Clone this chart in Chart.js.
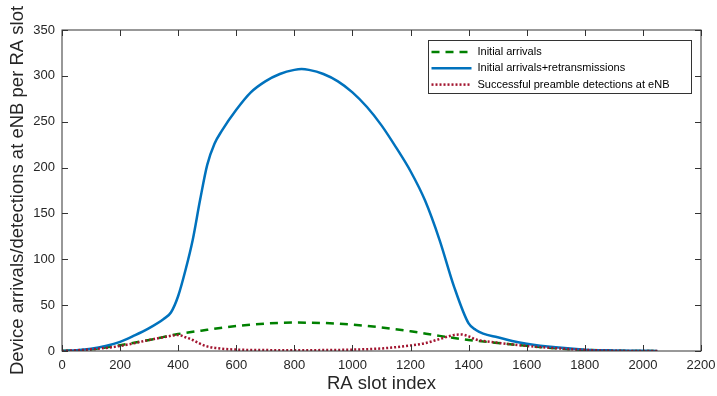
<!DOCTYPE html>
<html>
<head>
<meta charset="utf-8">
<script src="https://cdn.jsdelivr.net/npm/chart.js@4"></script>
<style>
  html, body { margin: 0; padding: 0; background: #fff; }
</style>
</head>
<body>
<canvas id="raChart" width="717" height="396"></canvas>
<script>
// Values
const arrivalsSlots = [0, 100, 200, 300, 400, 500, 600, 700, 800, 900, 1000, 1100, 1200, 1300, 1400, 1500, 1600, 1700, 1800, 1900, 2000, 2050];
const arrivalsValues = [0, 1.8, 6.3, 12, 18.5, 23.1, 27.2, 29.9, 31, 30.5, 28.7, 25.7, 21.5, 16.5, 12, 8.8, 5.6, 3, 1.2, 0.3, 0, 0];

const retxSlots = [0, 50, 100, 150, 200, 250, 300, 350, 375, 400, 425, 450, 475, 500, 525, 550, 600, 650, 700, 750, 800, 825, 850, 900, 950, 1000, 1050, 1100, 1150, 1200, 1250, 1300, 1350, 1400, 1425, 1450, 1500, 1550, 1600, 1700, 1800, 1900, 2000, 2050];
const retxValues = [0, 0.8, 2.5, 5.5, 10, 17, 25, 35, 42, 60, 88, 121, 164, 203, 226, 240, 263, 282, 294, 302, 306.5, 307.4, 306.5, 302, 294, 282, 266, 246, 222, 196, 164, 121, 70, 30, 23, 19, 15, 11, 8, 4, 1.5, 0.6, 0.2, 0];

const detectSlots = [0, 100, 200, 300, 350, 400, 425, 450, 475, 500, 550, 600, 700, 800, 900, 1000, 1100, 1200, 1250, 1300, 1350, 1375, 1400, 1425, 1450, 1500, 1600, 1700, 1800, 1900, 2000, 2050];
const detectValues = [0, 1.8, 5.5, 12, 15, 17.5, 15, 12, 8, 5, 2.5, 1.5, 1, 0.8, 1, 1.5, 2.8, 6, 8.5, 13, 17.5, 18, 16, 12.5, 11, 9, 5.5, 3, 1.2, 0.3, 0, 0];

const xTickMax = 2200;
const yTickMax = 350;

const axisColor = '#333333';
const fontFamily = '"Liberation Sans", Arial, Helvetica, sans-serif';

function toPoints(xs, ys) {
    return xs.map((x, i) => ({ x: x, y: ys[i] }));
}

// Box around the axes with inward ticks on all four sides (MATLAB look)
const boxPlugin = {
    id: 'boxTicks',
    afterDatasetsDraw(chart) {
        const ctx = chart.ctx;
        const area = chart.chartArea;
        const xs = chart.scales.x;
        const ys = chart.scales.y;
        ctx.save();
        ctx.strokeStyle = axisColor;
        ctx.lineWidth = 1;
        ctx.strokeRect(area.left, area.top, area.right - area.left, area.bottom - area.top);
        ctx.beginPath();
        xs.ticks.forEach(t => {
            const px = Math.round(xs.getPixelForValue(t.value)) + 0.5;
            ctx.moveTo(px, area.bottom);
            ctx.lineTo(px, area.bottom - 6);
            ctx.moveTo(px, area.top);
            ctx.lineTo(px, area.top + 6);
        });
        ys.ticks.forEach(t => {
            const py = Math.round(ys.getPixelForValue(t.value)) + 0.5;
            ctx.moveTo(area.left, py);
            ctx.lineTo(area.left + 6, py);
            ctx.moveTo(area.right, py);
            ctx.lineTo(area.right - 6, py);
        });
        ctx.stroke();
        ctx.restore();
    }
};

// Boxed legend in the upper right corner of the plot
const legendPlugin = {
    id: 'boxLegend',
    afterDraw(chart) {
        const ctx = chart.ctx;
        const area = chart.chartArea;
        const w = 263, h = 53;
        const left = area.right - 10.5 - w;
        const top = area.top + 10;
        ctx.save();
        ctx.fillStyle = '#ffffff';
        ctx.fillRect(left, top, w, h);
        ctx.strokeStyle = axisColor;
        ctx.lineWidth = 1;
        ctx.strokeRect(Math.round(left) + 0.5, Math.round(top) + 0.5, w, h);
        ctx.font = '11px ' + fontFamily;
        ctx.textBaseline = 'middle';
        ctx.fillStyle = '#000000';
        chart.data.datasets.forEach((ds, i) => {
            const y = top + 12 + i * 16.3;
            ctx.save();
            ctx.strokeStyle = ds.borderColor;
            ctx.lineWidth = ds.borderWidth;
            ctx.setLineDash(ds.borderDash || []);
            ctx.beginPath();
            ctx.moveTo(left + 4, y);
            ctx.lineTo(left + 44, y);
            ctx.stroke();
            ctx.restore();
            ctx.fillText(ds.label, left + 50, y);
        });
        ctx.restore();
    }
};

const ctx = document.getElementById('raChart');

new Chart(ctx, {
    type: 'line',
    data: {
        datasets: [
            {
                label: 'Initial arrivals',
                data: toPoints(arrivalsSlots, arrivalsValues),
                borderColor: '#008000',
                borderWidth: 2.5,
                borderDash: [8, 6],
                order: 2
            },
            {
                label: 'Initial arrivals+retransmissions',
                data: toPoints(retxSlots, retxValues),
                borderColor: '#0072BD',
                borderWidth: 2.5,
                order: 1
            },
            {
                label: 'Successful preamble detections at eNB',
                data: toPoints(detectSlots, detectValues),
                borderColor: '#A2142F',
                borderWidth: 2.5,
                borderDash: [2, 2],
                order: 0
            }
        ]
    },
    options: {
        responsive: false,
        animation: false,
        layout: {
            padding: { left: 0, top: 30, right: 16, bottom: 0 }
        },
        elements: {
            point: { radius: 0 },
            line: { cubicInterpolationMode: 'monotone', fill: false }
        },
        plugins: {
            legend: { display: false },
            tooltip: { enabled: false }
        },
        scales: {
            x: {
                type: 'linear',
                min: 0,
                max: xTickMax,
                border: { display: false },
                grid: { display: false, drawTicks: false },
                ticks: {
                    stepSize: 200,
                    padding: 7,
                    color: '#262626',
                    font: { family: fontFamily, size: 13 },
                    maxRotation: 0,
                    callback: v => String(v)
                },
                title: {
                    display: true,
                    text: 'RA slot index',
                    color: '#262626',
                    font: { family: fontFamily, size: 18.5, lineHeight: 1 },
                    padding: { top: 0, bottom: 3 }
                },
                afterFit(scale) {
                    scale.height = 45;
                    scale.paddingLeft = 0;
                    scale.paddingRight = 0;
                }
            },
            y: {
                min: 0,
                max: yTickMax,
                border: { display: false },
                grid: { display: false, drawTicks: false },
                ticks: {
                    stepSize: 50,
                    padding: 7,
                    color: '#262626',
                    font: { family: fontFamily, size: 13 }
                },
                title: {
                    display: true,
                    text: 'Device arrivals/detections at eNB per RA slot',
                    color: '#262626',
                    font: { family: fontFamily, size: 18.5, lineHeight: 1 },
                    padding: { top: 9, bottom: 0 }
                },
                afterFit(scale) {
                    scale.width = 62;
                    scale.paddingTop = 0;
                    scale.paddingBottom = 0;
                }
            }
        }
    },
    plugins: [boxPlugin, legendPlugin]
});
</script>
</body>
</html>
